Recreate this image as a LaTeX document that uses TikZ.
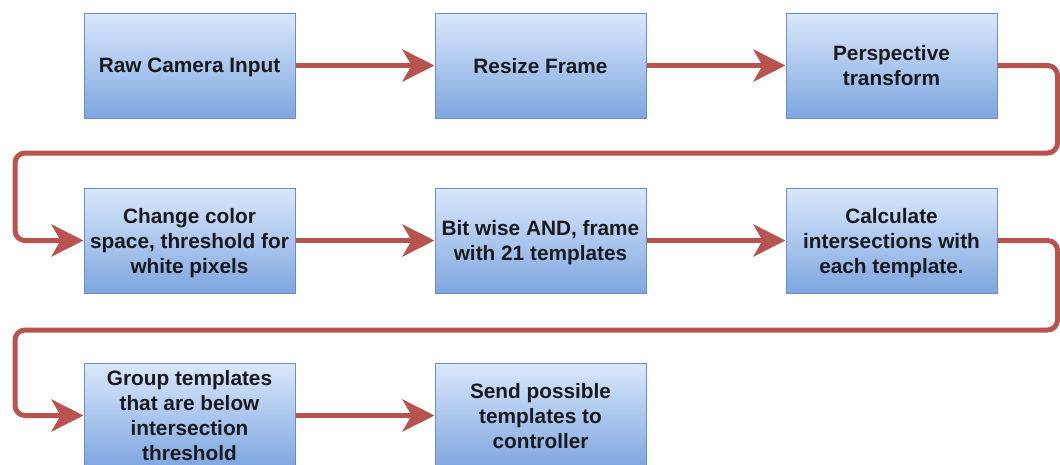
\documentclass[tikz,border=0pt]{standalone}
\usepackage{fontspec}
\setmainfont{Liberation Sans}
\usetikzlibrary{arrows.meta}
\definecolor{edgecol}{RGB}{184,84,80}
\definecolor{boxtop}{RGB}{218,232,252}
\definecolor{boxbot}{RGB}{126,166,224}
\definecolor{boxdraw}{RGB}{108,142,191}
\definecolor{txt}{RGB}{25,25,30}
\begin{document}
\begin{tikzpicture}[x=1pt,y=-1pt,
  stepbox/.style={draw=boxdraw, line width=1pt, top color=boxtop, bottom color=boxbot,
    minimum width=211pt, minimum height=105pt, inner sep=0pt, align=center,
    text depth=0pt,
    font=\fontsize{20.8}{25}\selectfont\bfseries, text=txt},
  flow/.style={draw=edgecol, line width=5pt, rounded corners=10pt,
    -{Stealth[length=32pt,width=32pt,inset=9pt]}}]
\clip (0,0) rectangle (1060,464);
\fill[white] (0,0) rectangle (1060,464);
\node[stepbox] (b1) at (189.5,65.5) {Raw Camera Input};
\node[stepbox] (b2) at (540.5,65.5) {Resize Frame};
\node[stepbox] (b3) at (891.5,65.5) {Perspective\\transform};
\node[stepbox] (b4) at (189.5,240.5) {Change color\\space, threshold for\\white pixels};
\node[stepbox] (b5) at (540.5,240.5) {Bit wise AND, frame\\with 21 templates};
\node[stepbox] (b6) at (891.5,240.5) {Calculate\\intersections with\\each template.};
\node[stepbox] (b7) at (189.5,415.5) {Group templates\\that are below\\intersection\\threshold};
\node[stepbox] (b8) at (540.5,415.5) {Send possible\\templates to\\controller};
\coordinate (r1a) at (1057.5,65.5);
\coordinate (r1b) at (1057.5,153);
\coordinate (l1a) at (15,153);
\coordinate (l1b) at (15,240.5);
\coordinate (r2a) at (1057.5,240.5);
\coordinate (r2b) at (1057.5,330);
\coordinate (l2a) at (15,330);
\coordinate (l2b) at (15,415.5);
\draw[flow] (b1) -- (b2);
\draw[flow] (b2) -- (b3);
\draw[flow] (b3.east) -- (r1a) -- (r1b) -- (l1a) -- (l1b) -- (b4.west);
\draw[flow] (b4) -- (b5);
\draw[flow] (b5) -- (b6);
\draw[flow] (b6.east) -- (r2a) -- (r2b) -- (l2a) -- (l2b) -- (b7.west);
\draw[flow] (b7) -- (b8);
\end{tikzpicture}
\end{document}
